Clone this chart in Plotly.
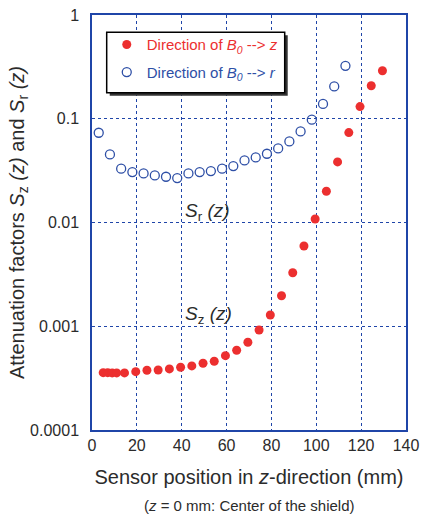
import plotly.graph_objects as go

# Sz(z): direction of B0 --> z
z_pos_z = [5, 7, 9, 11, 14.5, 19.5, 24.5, 29.5, 34.5, 39.5, 44.5, 49.5, 54.5, 59.5,
           64.5, 69.5, 74.5, 79.5, 84.5, 89.5, 94.5, 99.5, 104.5, 109.5, 114.5,
           119.5, 124.5, 129.5]
s_z = [3.57e-4, 3.57e-4, 3.55e-4, 3.55e-4, 3.55e-4, 3.65e-4, 3.77e-4, 3.79e-4, 3.88e-4,
       4.03e-4, 4.15e-4, 4.40e-4, 4.60e-4, 5.21e-4, 5.87e-4, 7.01e-4, 9.2e-4,
       1.285e-3, 1.97e-3, 3.28e-3, 5.94e-3, 1.08e-2, 0.020, 0.0384, 0.0736,
       0.131, 0.208, 0.29]

# Sr(z): direction of B0 --> r
z_pos_r = [3, 8, 13, 18, 23, 28, 33, 38, 43, 48, 53, 58, 63, 68, 73, 78, 83, 88,
           93, 98, 103, 108, 113]
s_r = [0.0733, 0.0453, 0.033, 0.0306, 0.0297, 0.0284, 0.0276, 0.0268, 0.0297, 0.0306,
       0.0313, 0.033, 0.035, 0.0397, 0.0424, 0.046, 0.0518, 0.0604, 0.0755, 0.098,
       0.139, 0.205, 0.324]

y_tickvals = [1e-4, 1e-3, 1e-2, 1e-1, 1]
y_ticktext = ["0.0001", "0.001", "0.01", "0.1", "1"]

RED = "#ec2f2f"
BLUE = "#2e4fa6"
AXIS = "#1f45a8"
TXT = "#2b2b2b"
FONT = "Liberation Sans, Arial, sans-serif"

fig = go.Figure()
fig.add_trace(go.Scatter(
    x=z_pos_z, y=s_z, mode="markers", legendgroup="a",
    name='<span style="color:%s">Direction of <i>B</i><sub><i>0</i></sub> --> <i>z</i></span>' % RED,
    marker=dict(symbol="circle", size=9, color=RED, line=dict(width=0)),
))
fig.add_trace(go.Scatter(
    x=z_pos_r, y=s_r, mode="markers", legendgroup="b",
    name='<span style="color:%s">Direction of <i>B</i><sub><i>0</i></sub> --> <i>r</i></span>' % BLUE,
    marker=dict(symbol="circle-open", size=9, color=BLUE, line=dict(width=1.3, color=BLUE)),
))

fig.update_layout(
    width=421, height=516,
    margin=dict(l=92, r=15, t=15, b=86, autoexpand=False),
    paper_bgcolor="white", plot_bgcolor="white",
    font=dict(family=FONT, size=16, color=TXT),
    showlegend=True,
    legend=dict(x=0.047, y=0.968, xanchor="left", yanchor="top",
                bgcolor="rgba(0,0,0,0)", borderwidth=0,
                font=dict(size=15), tracegroupgap=5, itemwidth=30),
    xaxis=dict(range=[0, 140], dtick=20, tick0=0, showgrid=True,
               gridcolor=AXIS, griddash="dot", gridwidth=1,
               showline=True, linecolor=AXIS, linewidth=1.5, mirror=True,
               ticks="", zeroline=False,
               tickfont=dict(size=16, color=TXT),
               title=dict(text="Sensor position in <i>z</i>-direction (mm)",
                          font=dict(size=20, color=TXT), standoff=17)),
    yaxis=dict(type="log", range=[-4, 0], tickvals=y_tickvals, ticktext=y_ticktext,
               showgrid=True, gridcolor=AXIS, griddash="dot", gridwidth=1,
               showline=True, linecolor=AXIS, linewidth=1.5, mirror=True,
               ticks="", zeroline=False, ticklabelstandoff=8,
               tickfont=dict(size=16, color=TXT),
               title=dict(text="Attenuation factors <i>S</i><sub>z</sub> <i>(z)</i> and <i>S</i><sub>r</sub> <i>(z)</i>",
                          font=dict(size=20, color=TXT), standoff=0)),
)

# legend box with shadow
fig.add_shape(type="rect", xref="paper", yref="paper",
              x0=0.0564, x1=0.6233, y0=0.8057, y1=0.951,
              fillcolor="#333333", line=dict(width=0), layer="above")
fig.add_shape(type="rect", xref="paper", yref="paper",
              x0=0.0468, x1=0.6137, y0=0.8129, y1=0.9583,
              fillcolor="white", line=dict(width=1.5, color="black"), layer="above")

fig.add_annotation(x=40.5, y=-1.90, xref="x", yref="y", xanchor="left", yanchor="middle",
                   text="<i>S</i><sub>r</sub> <i>(z)</i>", showarrow=False,
                   font=dict(size=19, color=TXT))
fig.add_annotation(x=40.5, y=-2.89, xref="x", yref="y", xanchor="left", yanchor="middle",
                   text="<i>S</i><sub>z</sub> <i>(z)</i>", showarrow=False,
                   font=dict(size=19, color=TXT))
fig.add_annotation(x=0.5, y=-(506 - 430.3) / 415.3, xref="paper", yref="paper",
                   yanchor="middle", xanchor="center",
                   text="(<i>z</i> = 0 mm: Center of the shield)", showarrow=False,
                   font=dict(size=15, color=TXT))

fig.write_html("out.html")
